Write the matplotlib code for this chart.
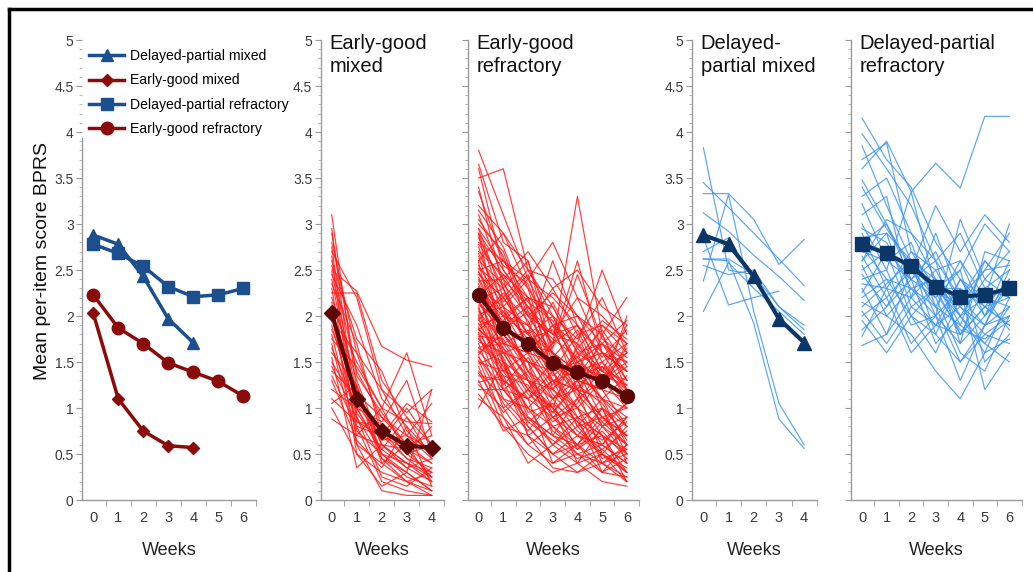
import matplotlib
matplotlib.use("Agg")
import matplotlib.pyplot as plt
from matplotlib.lines import Line2D
from matplotlib.ticker import MultipleLocator, FuncFormatter

plt.rcParams['font.family'] = ['Liberation Sans', 'DejaVu Sans']

# group means (weeks)
weeks_mixed = [0, 1, 2, 3, 4]
weeks_refr = [0, 1, 2, 3, 4, 5, 6]
dp_mixed_mean = [2.88, 2.78, 2.43, 1.97, 1.71]
eg_mixed_mean = [2.03, 1.10, 0.75, 0.59, 0.57]
dp_refr_mean = [2.78, 2.68, 2.54, 2.32, 2.21, 2.23, 2.30]
eg_refr_mean = [2.23, 1.87, 1.70, 1.49, 1.39, 1.29, 1.13]

# individual trajectories
eg_mixed_lines = [
    [3.10, 1.20, 0.60, 0.35, 0.20],
    [2.95, 0.90, 0.45, 0.30, 0.10],
    [2.80, 1.60, 0.80, 0.50, 0.30],
    [2.70, 2.20, 1.20, 0.70, 0.45],
    [2.65, 0.60, 0.40, 0.20, 0.05],
    [2.55, 1.40, 0.90, 0.60, 0.40],
    [2.50, 2.27, 1.67, 1.52, 1.45],
    [2.45, 1.90, 1.10, 0.80, 0.50],
    [2.40, 1.00, 0.50, 0.25, 0.15],
    [2.35, 1.70, 0.70, 1.05, 0.85],
    [2.30, 0.75, 0.50, 0.40, 0.30],
    [2.25, 2.25, 1.30, 0.90, 0.60],
    [2.20, 1.30, 0.60, 0.55, 0.25],
    [2.15, 0.50, 0.30, 0.20, 0.10],
    [2.10, 1.50, 1.00, 1.60, 0.70],
    [2.05, 1.10, 0.75, 0.45, 0.35],
    [2.00, 0.80, 0.20, 0.10, 0.05],
    [1.95, 1.60, 1.20, 0.95, 1.20],
    [1.90, 0.95, 0.55, 0.35, 0.45],
    [1.85, 1.20, 0.40, 0.60, 0.20],
    [1.80, 0.70, 1.00, 0.50, 0.80],
    [1.75, 1.45, 1.00, 0.85, 0.83],
    [1.70, 0.60, 0.10, 0.05, 0.05],
    [1.65, 1.00, 0.85, 1.30, 0.50],
    [1.60, 1.25, 0.50, 0.30, 1.20],
    [1.55, 0.35, 0.60, 0.40, 0.25],
    [1.50, 1.05, 0.65, 1.00, 0.60],
    [1.45, 0.90, 0.25, 0.15, 0.35],
    [1.40, 1.15, 0.90, 0.70, 1.05],
    [1.35, 0.80, 0.70, 0.55, 0.40],
    [1.30, 0.65, 0.35, 0.80, 0.15],
    [1.20, 1.00, 0.55, 0.90, 0.45],
    [1.10, 0.85, 0.80, 0.50, 0.60],
    [1.05, 1.25, 0.45, 0.20, 0.30],
    [1.00, 0.50, 0.15, 0.30, 0.10],
    [0.88, 0.70, 0.60, 0.40, 0.20],
    [2.60, 1.75, 1.40, 0.75, 0.50],
    [2.90, 1.35, 0.95, 0.60, 0.70],
    [2.75, 0.85, 0.70, 0.45, 0.25],
    [2.48, 1.15, 0.65, 0.70, 0.55],
]

eg_refr_lines = [
    [3.80, 3.10, 2.40, 2.20, 1.90, 1.60, 1.40],
    [3.65, 2.80, 2.60, 1.80, 1.70, 1.30, 1.10],
    [3.50, 3.60, 2.50, 2.10, 1.60, 1.70, 1.50],
    [3.35, 2.60, 2.20, 2.00, 1.40, 1.10, 0.90],
    [3.20, 2.90, 2.30, 1.90, 2.00, 1.50, 1.70],
    [3.10, 2.40, 2.70, 2.30, 1.80, 1.90, 1.60],
    [3.00, 2.70, 2.00, 1.60, 1.30, 1.20, 0.80],
    [2.95, 2.20, 1.80, 2.60, 1.90, 1.40, 1.30],
    [2.90, 2.50, 2.10, 1.70, 3.30, 1.80, 1.20],
    [2.85, 2.30, 1.60, 1.50, 1.20, 0.90, 0.70],
    [2.80, 2.60, 2.40, 1.90, 1.70, 2.50, 1.80],
    [2.75, 2.00, 1.90, 1.40, 1.50, 1.30, 1.00],
    [2.70, 2.45, 2.20, 2.10, 1.60, 1.40, 1.90],
    [2.65, 1.80, 1.50, 1.30, 1.00, 0.80, 0.60],
    [2.60, 2.35, 2.00, 1.80, 2.20, 1.60, 1.40],
    [2.55, 2.10, 1.70, 1.60, 1.40, 1.50, 1.20],
    [2.50, 2.60, 2.30, 1.40, 1.80, 1.20, 2.00],
    [2.48, 1.90, 1.40, 1.20, 0.90, 1.00, 0.50],
    [2.45, 2.20, 1.80, 2.00, 1.50, 1.70, 1.30],
    [2.40, 1.70, 1.60, 1.10, 1.30, 0.80, 0.90],
    [2.38, 2.40, 2.10, 1.70, 2.60, 1.60, 1.50],
    [2.35, 1.60, 1.20, 1.00, 0.70, 0.60, 0.40],
    [2.30, 2.10, 1.90, 1.60, 1.40, 1.90, 1.70],
    [2.28, 1.90, 1.70, 1.30, 1.20, 1.10, 0.80],
    [2.25, 2.00, 1.40, 1.70, 1.90, 1.40, 1.60],
    [2.20, 1.50, 1.30, 0.90, 1.10, 0.70, 0.30],
    [2.18, 2.30, 1.80, 1.50, 1.30, 1.20, 1.10],
    [2.15, 1.80, 1.50, 1.40, 1.00, 1.30, 1.50],
    [2.12, 1.95, 2.20, 1.20, 1.60, 1.00, 0.70],
    [2.10, 1.40, 1.00, 0.80, 0.50, 0.40, 0.20],
    [2.05, 1.70, 1.60, 1.90, 1.50, 1.60, 1.40],
    [2.02, 2.10, 1.30, 1.10, 1.40, 0.90, 1.00],
    [2.00, 1.60, 1.70, 1.40, 0.80, 1.10, 0.60],
    [1.98, 1.30, 1.10, 1.30, 1.20, 0.50, 0.80],
    [1.95, 1.85, 1.50, 1.00, 1.70, 1.40, 1.20],
    [1.92, 1.50, 0.90, 0.60, 0.90, 0.70, 0.50],
    [1.90, 2.00, 1.80, 1.60, 1.10, 1.80, 1.30],
    [1.88, 1.20, 1.40, 0.90, 0.60, 1.00, 0.40],
    [1.85, 1.65, 1.20, 1.50, 1.30, 1.20, 1.70],
    [1.82, 1.40, 1.60, 1.20, 1.00, 0.60, 0.90],
    [1.80, 1.10, 0.80, 0.50, 0.70, 0.50, 0.30],
    [1.78, 1.75, 1.30, 1.20, 1.50, 1.10, 1.00],
    [1.75, 1.45, 1.00, 1.30, 0.80, 0.90, 0.70],
    [1.72, 1.60, 1.50, 0.70, 1.10, 1.30, 1.60],
    [1.70, 1.00, 1.20, 1.00, 0.40, 0.80, 0.50],
    [1.65, 1.50, 0.70, 0.90, 1.00, 0.40, 0.60],
    [1.62, 1.30, 1.10, 0.40, 0.60, 0.70, 0.20],
    [1.60, 1.80, 1.40, 1.10, 1.20, 1.50, 1.10],
    [1.55, 1.20, 0.90, 0.70, 0.50, 0.60, 0.40],
    [1.52, 0.90, 0.60, 0.80, 0.90, 0.30, 0.60],
    [1.50, 1.40, 1.30, 1.00, 0.70, 1.00, 0.80],
    [1.45, 0.80, 0.50, 0.30, 0.40, 0.20, 0.15],
    [1.40, 1.10, 1.00, 0.60, 0.80, 0.50, 0.30],
    [1.35, 1.30, 0.70, 0.50, 0.30, 0.40, 0.50],
    [1.30, 0.75, 0.90, 0.70, 0.60, 0.90, 0.70],
    [1.25, 1.00, 0.60, 0.40, 0.50, 0.30, 0.25],
    [1.20, 1.20, 1.10, 0.90, 0.70, 0.60, 0.90],
    [1.10, 0.90, 0.40, 0.60, 0.40, 0.50, 0.35],
    [1.00, 1.50, 0.80, 0.50, 0.60, 0.30, 0.45],
    [2.60, 2.90, 2.50, 2.40, 2.00, 1.80, 2.20],
    [2.90, 2.10, 2.40, 2.80, 2.20, 2.00, 1.70],
    [3.05, 2.65, 1.90, 2.30, 2.50, 2.10, 1.90],
    [2.22, 2.45, 2.00, 2.25, 2.00, 1.70, 1.95],
    [1.58, 1.90, 2.10, 1.80, 1.90, 1.55, 1.85],
    [2.00, 2.20, 2.50, 2.00, 1.75, 2.20, 1.60],
    [3.40, 2.30, 2.60, 1.60, 1.20, 0.90, 0.60],
    [3.15, 2.75, 2.05, 1.75, 1.55, 1.85, 1.45],
    [2.88, 1.70, 1.30, 0.80, 0.60, 0.40, 0.25],
    [2.78, 2.40, 1.60, 1.90, 1.20, 1.60, 1.20],
    [2.68, 2.15, 2.45, 1.55, 1.85, 1.30, 1.65],
    [2.58, 1.50, 1.10, 1.40, 0.90, 0.70, 0.55],
    [2.52, 2.30, 1.65, 1.25, 1.65, 1.95, 1.75],
    [2.42, 1.85, 2.05, 1.45, 1.15, 0.85, 1.05],
    [2.32, 1.20, 0.85, 0.65, 0.45, 0.55, 0.30],
    [2.26, 2.05, 1.75, 1.85, 1.35, 1.45, 1.25],
    [2.16, 1.65, 1.35, 0.95, 1.25, 1.05, 0.65],
    [2.08, 1.25, 1.55, 1.15, 0.85, 0.65, 0.85],
    [1.96, 2.25, 1.95, 1.35, 1.55, 1.25, 1.45],
    [1.86, 1.55, 0.95, 1.05, 0.55, 0.75, 0.45],
    [1.76, 1.35, 1.25, 0.85, 1.05, 1.45, 1.15],
    [1.66, 1.70, 1.85, 1.30, 1.40, 1.10, 1.35],
    [1.56, 1.05, 0.75, 1.10, 0.75, 0.55, 0.75],
    [1.48, 1.60, 1.15, 0.95, 1.30, 0.80, 1.05],
    [1.38, 0.95, 1.20, 0.75, 0.55, 0.85, 0.60],
    [1.28, 1.35, 0.85, 1.05, 0.85, 0.45, 0.55],
    [1.15, 0.80, 0.70, 0.35, 0.30, 0.50, 0.20],
    [3.60, 2.50, 2.15, 1.95, 1.45, 1.35, 1.25],
    [2.95, 2.55, 2.35, 1.65, 2.45, 1.75, 1.55],
    [1.85, 2.05, 1.60, 2.15, 1.65, 1.35, 1.05],
    [2.48, 2.00, 2.20, 1.50, 1.35, 1.70, 1.40],
]

dp_mixed_lines = [
    [3.83, 2.50, 2.45, 2.10, 1.85],
    [3.45, 3.18, 2.90, 2.62, 2.33],
    [3.33, 3.33, 3.05, 2.56, 2.83],
    [3.12, 2.92, 2.66, 2.43, 2.17],
    [2.38, 3.32, 2.05, 1.05, 0.60],
    [2.62, 2.60, 1.92, 0.88, 0.56],
    [2.05, 2.58, 2.30, 2.05, 1.80],
    [2.85, 2.12, 2.20, 2.27, None],
    [2.62, 2.62, 2.45, None, None],
    [2.55, 2.45, 2.50, 2.10, 1.90],
    [2.70, 2.85, 2.40, None, None],
]

dp_refr_lines = [
    [4.15, 3.70, 3.40, 2.80, 2.40, 2.10, 2.20],
    [3.98, 3.60, 3.20, 2.60, 2.90, 2.30, 2.50],
    [3.85, 3.20, 2.60, 2.40, 2.00, 1.70, 2.10],
    [3.70, 3.88, 2.70, 2.30, 1.80, 2.10, 1.90],
    [3.60, 3.90, 3.35, 3.66, 3.39, 4.17, 4.17],
    [3.48, 3.00, 2.50, 2.10, 2.60, 2.00, 2.40],
    [3.30, 3.50, 2.90, 2.40, 1.90, 2.60, 2.30],
    [3.22, 2.60, 2.40, 2.20, 2.50, 3.00, 2.70],
    [3.10, 3.30, 2.20, 2.90, 2.20, 1.90, 2.00],
    [3.00, 2.50, 3.35, 2.30, 2.10, 2.50, 2.90],
    [2.95, 2.80, 2.30, 2.00, 3.05, 2.40, 2.20],
    [2.90, 2.30, 2.70, 2.50, 2.00, 1.60, 1.75],
    [2.85, 2.90, 2.60, 1.80, 2.40, 2.20, 3.00],
    [2.80, 3.00, 2.40, 2.60, 1.70, 2.70, 2.60],
    [2.75, 2.40, 2.00, 2.30, 2.30, 2.10, 1.90],
    [2.70, 2.60, 2.80, 2.10, 1.50, 1.90, 2.50],
    [2.65, 2.20, 2.50, 3.20, 2.70, 3.10, 2.80],
    [2.60, 2.90, 2.10, 1.90, 2.10, 1.80, 2.00],
    [2.55, 2.00, 2.30, 2.40, 1.80, 2.30, 2.20],
    [2.50, 2.70, 2.40, 1.70, 2.00, 2.40, 2.70],
    [2.45, 2.10, 2.60, 2.30, 2.50, 1.50, 1.80],
    [2.40, 2.50, 1.90, 2.00, 1.30, 1.90, 2.40],
    [2.35, 2.30, 2.20, 2.50, 2.60, 2.20, 2.10],
    [2.30, 1.80, 2.50, 2.20, 1.60, 1.40, 2.00],
    [2.25, 2.70, 2.00, 1.60, 2.20, 2.60, 2.30],
    [2.20, 2.40, 2.30, 2.10, 1.90, 1.70, 1.50],
    [2.15, 2.00, 1.80, 1.40, 1.10, 1.60, 2.20],
    [2.10, 2.35, 2.60, 2.00, 1.70, 2.00, 2.60],
    [2.05, 1.70, 2.10, 2.30, 2.00, 2.20, 1.85],
    [2.00, 2.20, 1.60, 1.90, 2.40, 2.00, 2.30],
    [1.95, 1.60, 2.00, 1.80, 1.50, 1.80, 1.70],
    [1.85, 2.10, 2.40, 2.70, 2.10, 1.90, 2.10],
    [1.78, 2.30, 1.70, 2.00, 2.30, 1.20, 1.60],
    [1.68, 1.80, 2.20, 1.90, 1.80, 2.10, 2.40],
    [2.60, 3.05, 2.90, 2.60, 2.20, 2.50, 2.55],
    [3.40, 2.95, 2.55, 2.25, 1.85, 1.75, 1.95],
]

blue = '#1b4f8e'
navy = '#0b3668'
dred = '#8b0a0a'
maroon = '#5c0606'
thin_red = '#ff1a1a'
thin_blue = '#3d95f0'

W, H = 1033, 572
fig = plt.figure(figsize=(W / 100, H / 100), dpi=100)

# figure frame (top and left edges visible)
fig.add_artist(Line2D([9 / W, 9 / W], [0, 1 - 9 / H], transform=fig.transFigure, color='black', lw=2.5))
fig.add_artist(Line2D([9 / W, 1], [1 - 9 / H, 1 - 9 / H], transform=fig.transFigure, color='black', lw=2.5))

bottom = 72 / H
height = 460 / H


def make_ax(left_px, n_weeks, px_per_week, show_labels):
    width_px = (n_weeks + 0.95) * px_per_week
    ax = fig.add_axes([left_px / W, bottom, width_px / W, height])
    ax.set_xlim(-0.45, n_weeks + 0.5)
    ax.set_ylim(0, 5)
    for s in ['top', 'right']:
        ax.spines[s].set_visible(False)
    for s in ['left', 'bottom']:
        ax.spines[s].set_color('#9a9a9a')
        ax.spines[s].set_linewidth(1.0)
    ax.yaxis.set_major_locator(MultipleLocator(0.5))
    ax.yaxis.set_minor_locator(MultipleLocator(0.1))
    ax.yaxis.set_major_formatter(FuncFormatter(lambda v, p: f"{v:g}"))
    ax.set_xticks(range(n_weeks + 1))
    ax.set_xticks([i + 0.5 for i in range(n_weeks + 1)], minor=True)
    ax.tick_params(axis='y', which='major', length=4, color='#9a9a9a', labelsize=10,
                   labelcolor='#3a3a3a', pad=2, labelleft=show_labels)
    ax.tick_params(axis='y', which='minor', length=2, color='#b0b0b0')
    ax.tick_params(axis='x', which='major', length=0, labelsize=10.5, labelcolor='#3a3a3a', pad=8)
    ax.tick_params(axis='x', which='minor', length=4, color='#9a9a9a')
    ax.set_xlabel('Weeks', fontsize=13, labelpad=12, color='#222222')
    return ax


ax1 = make_ax(82, 6, 25, True)
ax2 = make_ax(320.5, 4, 25, True)
ax3 = make_ax(467.5, 6, 24.7, False)
ax4 = make_ax(692, 4, 25.2, True)
ax5 = make_ax(851, 6, 24.55, False)

# summary panel
ax1.plot(weeks_mixed, dp_mixed_mean, color=blue, lw=2.5, marker='^', ms=9, label='Delayed-partial mixed')
ax1.plot(weeks_mixed, eg_mixed_mean, color=dred, lw=2.5, marker='D', ms=6.5, label='Early-good mixed')
ax1.plot(weeks_refr, dp_refr_mean, color=blue, lw=2.5, marker='s', ms=9, label='Delayed-partial refractory')
ax1.plot(weeks_refr, eg_refr_mean, color=dred, lw=2.5, marker='o', ms=9, label='Early-good refractory')
ax1.set_ylabel('Mean per-item score BPRS', fontsize=14, color='#111111')
ax1.yaxis.set_label_coords(-0.18, 0.52)
ax1.spines['left'].set_bounds(0, 3.93)
leg = ax1.legend(loc='upper left', bbox_to_anchor=(0.0, 0.995), frameon=True, fontsize=10.1,
                 handlelength=2.5, labelspacing=0.72, borderpad=0.3, handletextpad=0.45,
                 borderaxespad=0.2)
leg.get_frame().set_facecolor('white')
leg.get_frame().set_edgecolor('none')
leg.get_frame().set_alpha(1)
ax1.set_zorder(5)


def spaghetti(ax, weeks, lines, col, mean, mcol, marker, ms):
    for ln in lines:
        xs = [w for w, v in zip(weeks, ln) if v is not None]
        ys = [v for v in ln if v is not None]
        ax.plot(xs, ys, color=col, lw=0.85, alpha=0.85)
    ax.plot(weeks, mean, color=mcol, lw=3, marker=marker, ms=ms, zorder=5)


spaghetti(ax2, weeks_mixed, eg_mixed_lines, thin_red, eg_mixed_mean, maroon, 'D', 8)
spaghetti(ax3, weeks_refr, eg_refr_lines, thin_red, eg_refr_mean, maroon, 'o', 10)
spaghetti(ax4, weeks_mixed, dp_mixed_lines, thin_blue, dp_mixed_mean, navy, '^', 10)
spaghetti(ax5, weeks_refr, dp_refr_lines, thin_blue, dp_refr_mean, navy, 's', 10)

titles = [(ax2, 'Early-good\nmixed'), (ax3, 'Early-good\nrefractory'),
          (ax4, 'Delayed-\npartial mixed'), (ax5, 'Delayed-partial\nrefractory')]
for ax, t in titles:
    ax.text(-0.1, 5.06, t, fontsize=14.5, va='top', ha='left', linespacing=1.25, color='#111111')

fig.savefig('out.png', dpi=100)
